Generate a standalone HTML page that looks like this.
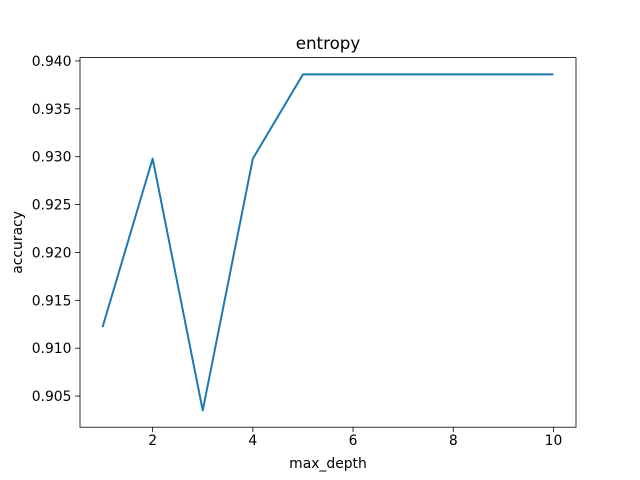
<!DOCTYPE html>
<html><head><meta charset="utf-8"><style>body{margin:0;background:#fff}svg{display:block;font-family:"DejaVu Sans","Liberation Sans",sans-serif}</style></head>
<body>
<svg id="chart" width="640" height="480"></svg>
<script>
const xValues=[1,2,3,4,5,6,7,8,9,10];
const accuracy=[0.9122,0.9298,0.9035,0.9298,0.9386,0.9386,0.9386,0.9386,0.9386,0.9386];
const xTicks=[2,4,6,8,10];
const yTicks=[0.905,0.910,0.915,0.920,0.925,0.930,0.935,0.940];
const yTickLabels=["0.905","0.910","0.915","0.920","0.925","0.930","0.935","0.940"];
const L=80,R=576,T=57.6,B=427.2;
const xmin=0.55,xmax=10.45,ymin=0.90175,ymax=0.94035;
const sx=v=>L+(v-xmin)/(xmax-xmin)*(R-L);
const sy=v=>B-(v-ymin)/(ymax-ymin)*(B-T);
const svg=document.getElementById('chart');
const NS='http://www.w3.org/2000/svg';
function mk(tag,attrs,parent){const e=document.createElementNS(NS,tag);for(const k in attrs)e.setAttribute(k,attrs[k]);(parent||svg).appendChild(e);return e;}
let fr=mk('rect',{x:L,y:T,width:R-L,height:B-T,fill:'none',stroke:'#000','stroke-width':0.8});


xTicks.forEach(t=>{const x=sx(t);
 let l=mk('line',{x1:x,x2:x,y1:B,y2:B+4.9,stroke:'#000','stroke-width':0.8});
 
 
 let tx=mk('text',{x:x,y:B+18,'font-size':13.9,'text-anchor':'middle'});tx.textContent=t;
 
 });
yTicks.forEach((t,i)=>{const y=sy(t);
 let l=mk('line',{x1:L-4.9,x2:L,y1:y,y2:y,stroke:'#000','stroke-width':0.8});
 
 
 let tx=mk('text',{x:L-8.5,y:y+5,'font-size':13.9,'text-anchor':'end'});tx.textContent=yTickLabels[i];
 
 });
let pts=xValues.map((x,i)=>sx(x)+','+sy(accuracy[i])).join(' ');
let pl=mk('polyline',{points:pts,fill:'none',stroke:'#1f77b4','stroke-width':2,'stroke-linejoin':'round'});


let ti=mk('text',{x:(L+R)/2,y:T-8.5,'font-size':16.7,'text-anchor':'middle'});ti.textContent='entropy';


let xl=mk('text',{x:(L+R)/2,y:468,'font-size':13.9,'text-anchor':'middle'});xl.textContent='max_depth';


let yl=mk('text',{x:0,y:0,'font-size':13.9,'text-anchor':'middle',transform:'translate(22,'+((T+B)/2)+') rotate(-90)'});yl.textContent='accuracy';


</script>
</body></html>
